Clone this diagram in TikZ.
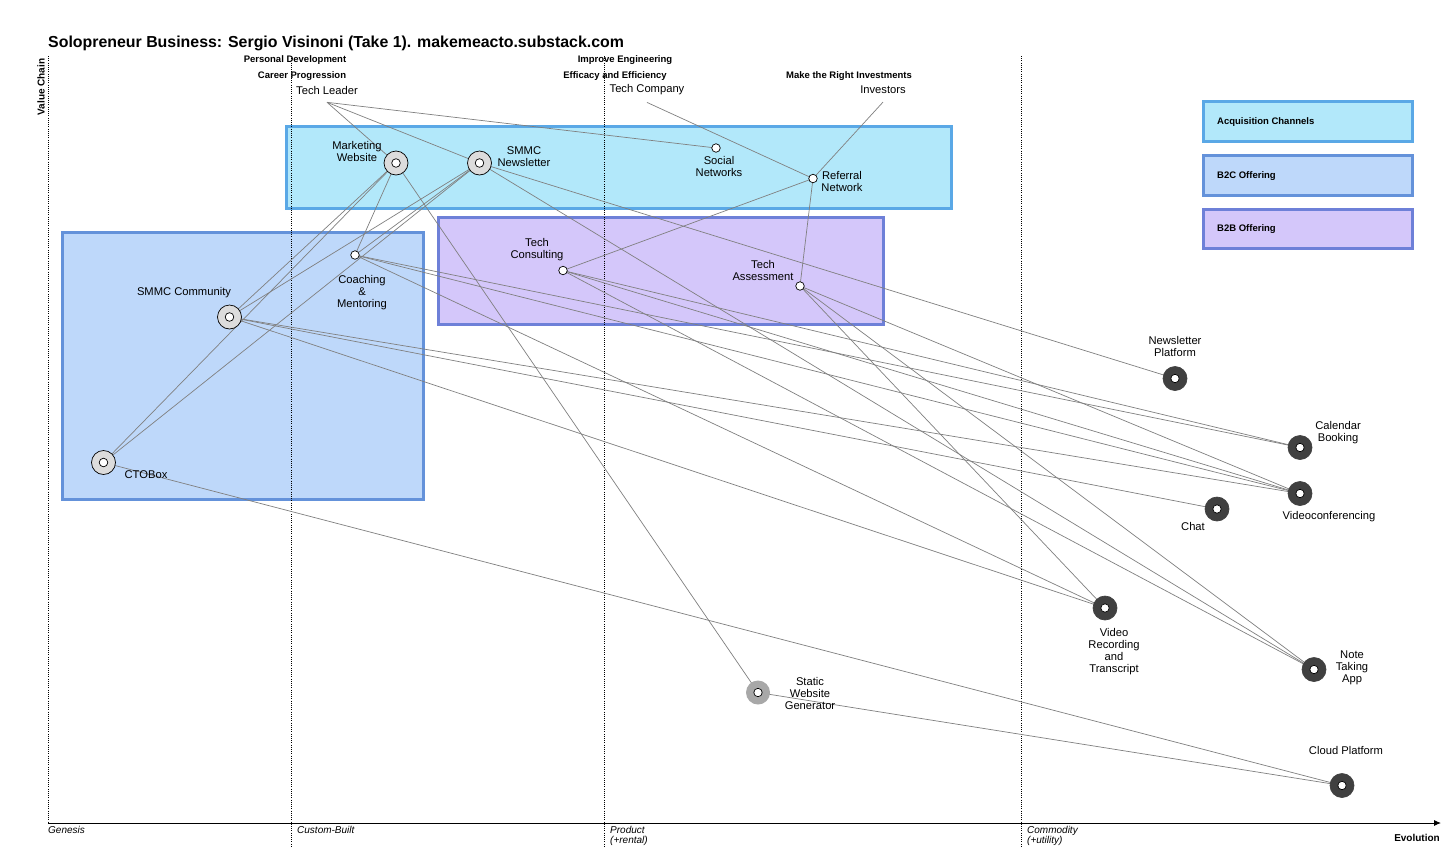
\documentclass[tikz,border=0pt]{standalone}
\usepackage{fontspec}
\setmainfont{Liberation Sans}
\usetikzlibrary{arrows.meta}
\pgfdeclarelayer{boxes}
\pgfdeclarelayer{links}
\pgfsetlayers{boxes,links,main}
\definecolor{acqfill}{HTML}{B2E8FA}
\definecolor{acqedge}{HTML}{5AA8E6}
\definecolor{btcfill}{HTML}{BED8FA}
\definecolor{btcedge}{HTML}{6492DA}
\definecolor{bbfill}{HTML}{D4C7FA}
\definecolor{bbedge}{HTML}{6E80D8}
\definecolor{linkgray}{HTML}{808080}
\definecolor{darknode}{HTML}{404040}
\definecolor{ringfill}{HTML}{DCDCDC}
\definecolor{swgfill}{HTML}{A8A8A8}
\tikzset{
  lbl/.style={font=\fontsize{11.2}{12}\selectfont, align=center, inner sep=0pt},
  hdr/.style={font=\bfseries\fontsize{9.5}{10}\selectfont, inner sep=0pt},
  axlbl/.style={font=\itshape\fontsize{10}{10}\selectfont, inner sep=0pt, anchor=north west, align=left},
  leglbl/.style={font=\bfseries\fontsize{9.5}{10}\selectfont, inner sep=0pt, anchor=west},
  conn/.style={draw=linkgray, line width=0.7pt},
  grid/.style={draw=black, line width=0.8pt, dash pattern=on 1pt off 1.2pt},
  area/.style={line width=3pt},
  bigring/.style={circle, draw=black, line width=0.7pt, fill=ringfill, minimum size=24pt, inner sep=0pt,
    path picture={\draw[fill=white, line width=0.7pt] (path picture bounding box.center) circle (4.3pt);}},
  darkring/.style={circle, draw=darknode, line width=0.7pt, fill=darknode, minimum size=24pt, inner sep=0pt,
    path picture={\draw[fill=white, draw=black, line width=0.7pt] (path picture bounding box.center) circle (4.2pt);}},
  greyring/.style={circle, draw=none, fill=swgfill, minimum size=24pt, inner sep=0pt,
    path picture={\draw[fill=white, draw=black, line width=0.7pt] (path picture bounding box.center) circle (4.2pt);}},
  dot/.style={circle, draw=black, fill=white, line width=0.7pt, minimum size=8.5pt, inner sep=0pt}
}
\begin{document}
\begin{tikzpicture}[x=1pt,y=-1pt]
\useasboundingbox (0,0) rectangle (1456,852);

% ---------- areas ----------
\begin{pgfonlayer}{boxes}
\fill[white] (0,0) rectangle (1456,852);
\draw[area, fill=acqfill, draw=acqedge] (286.5,126.5) rectangle (951.5,208.5);
\draw[area, fill=btcfill, draw=btcedge] (62.5,232.5) rectangle (423.5,499.5);
\draw[area, fill=bbfill, draw=bbedge] (438.5,217.5) rectangle (883.5,324.5);
\draw[area, fill=acqfill, draw=acqedge] (1203,101.5) rectangle (1412,141);
\draw[area, fill=btcfill, draw=btcedge] (1203,155.5) rectangle (1412,195);
\draw[area, fill=bbfill, draw=bbedge] (1203,209) rectangle (1412,248);
\end{pgfonlayer}

% ---------- grid and axes ----------
\coordinate (yaxtop) at (48,56);
\coordinate (origin) at (48,823);
\coordinate (xend) at (1441,823);
\coordinate (g1t) at (291,56);   \coordinate (g1b) at (291,846);
\coordinate (g2t) at (604,56);   \coordinate (g2b) at (604,846);
\coordinate (g3t) at (1021,56);  \coordinate (g3b) at (1021,846);
\begin{pgfonlayer}{links}
\draw[grid] (yaxtop) -- (origin);
\draw[grid] (g1t) -- (g1b);
\draw[grid] (g2t) -- (g2b);
\draw[grid] (g3t) -- (g3b);
\end{pgfonlayer}
\draw[line width=0.9pt, -{Latex[length=7pt,width=6pt]}] (origin) -- (xend);

\node[anchor=west, font=\bfseries\fontsize{15.9}{18}\selectfont, inner sep=0pt] (title) at (48,43)
  {Solopreneur Business: Sergio Visinoni (Take 1). makemeacto.substack.com};
\node[rotate=90, font=\bfseries\fontsize{10}{10}\selectfont, inner sep=0pt] (vclabel) at (41,87) {Value Chain};
\node[axlbl] (gen) at (48,826) {Genesis};
\node[axlbl] (cust) at (297,826) {Custom-Built};
\node[axlbl] (prod) at (610,826) {Product\\(+rental)};
\node[axlbl] (comm) at (1027,826) {Commodity\\(+utility)};
\node[font=\bfseries\fontsize{10}{10}\selectfont, inner sep=0pt, anchor=east] (evo) at (1440,838) {Evolution};

% ---------- legend ----------
\node[leglbl] (legacq) at (1217,122) {Acquisition Channels};
\node[leglbl] (legbtc) at (1217,176) {B2C Offering};
\node[leglbl] (legbtb) at (1217,229) {B2B Offering};

% ---------- anchors (users / needs) ----------
\node[hdr] (pd) at (295,60) {Personal Development};
\node[hdr] (cp) at (302,76) {Career Progression};
\node[lbl] (tl) at (327,90) {Tech Leader};
\node[hdr] (ie) at (625,60) {Improve Engineering};
\node[hdr] (ee) at (615,76) {Efficacy and Efficiency};
\node[lbl] (tc) at (647,90) {Tech Company};
\node[hdr] (mri) at (849,76) {Make the Right Investments};
\node[lbl] (inv) at (883,90) {Investors};

% ---------- components ----------
\node[bigring] (mw) at (396,163) {};
\node[bigring] (nl) at (479.5,163) {};
\node[dot] (sn) at (716,148) {};
\node[dot] (rn) at (813,178.5) {};
\node[dot] (coach) at (355,255) {};
\node[dot] (tcons) at (563,270.5) {};
\node[dot] (ta) at (800,286) {};
\node[bigring] (smmc) at (229.5,317) {};
\node[bigring] (cto) at (103.5,462.5) {};
\node[darkring] (np) at (1175,378.5) {};
\node[darkring] (cal) at (1300,447.5) {};
\node[darkring] (vc) at (1300,493.5) {};
\node[darkring] (chat) at (1217,509) {};
\node[darkring] (vr) at (1105,608) {};
\node[darkring] (nta) at (1314,669.5) {};
\node[greyring] (swg) at (758,692.5) {};
\node[darkring] (cloud) at (1342,785.5) {};

% ---------- component labels ----------
\node[lbl] (mwl) at (357,151) {Marketing\\Website};
\node[lbl] (nll) at (524,157) {SMMC\\Newsletter};
\node[lbl] (snl) at (719,166) {Social\\Networks};
\node[lbl] (rnl) at (842,181) {Referral\\Network};
\node[lbl] (tconsl) at (537,250) {Tech\\Consulting};
\node[lbl] (tal) at (763,270) {Tech\\Assessment};
\node[lbl] (coachl) at (362,293) {Coaching\\\&\\Mentoring};
\node[lbl] (smmcl) at (184,293) {SMMC Community};
\node[lbl] (ctol) at (146,475) {CTOBox};
\node[lbl] (npl) at (1175,346) {Newsletter\\Platform};
\node[lbl] (call) at (1338,433) {Calendar\\Booking};
\node[lbl] (vcl) at (1329,517) {Videoconferencing};
\node[lbl] (chatl) at (1193,526) {Chat};
\node[lbl] (vrl) at (1114,652) {Video\\Recording\\and\\Transcript};
\node[lbl] (ntal) at (1352,668) {Note\\Taking\\App};
\node[lbl] (swgl) at (810,693) {Static\\Website\\Generator};
\node[lbl] (cloudl) at (1346,750) {Cloud Platform};

% ---------- connectors ----------
\begin{pgfonlayer}{links}
\draw[conn] ([yshift=-8pt]tl.south) -- (mw.center);
\draw[conn] ([yshift=-8pt]tl.south) -- (nl.center);
\draw[conn] ([yshift=-8pt]tl.south) -- (sn.center);
\draw[conn] ([yshift=-7pt]tc.south) -- (rn.center);
\draw[conn] ([yshift=-8pt]inv.south) -- (rn.center);
\draw[conn] (rn.center) -- (tcons.center);
\draw[conn] (rn.center) -- (ta.center);
\draw[conn] (mw.center) -- (smmc.center);
\draw[conn] (mw.center) -- (cto.center);
\draw[conn] (mw.center) -- (coach.center);
\draw[conn] (mw.center) -- (swg.center);
\draw[conn] (nl.center) -- (smmc.center);
\draw[conn] (nl.center) -- (cto.center);
\draw[conn] (nl.center) -- (coach.center);
\draw[conn] (nl.center) -- (np.center);
\draw[conn] (nl.center) -- (nta.center);
\draw[conn] (coach.center) -- (cal.center);
\draw[conn] (coach.center) -- (vc.center);
\draw[conn] (coach.center) -- (vr.center);
\draw[conn] (smmc.center) -- (vc.center);
\draw[conn] (smmc.center) -- (chat.center);
\draw[conn] (smmc.center) -- (vr.center);
\draw[conn] (tcons.center) -- (cal.center);
\draw[conn] (tcons.center) -- (vc.center);
\draw[conn] (tcons.center) -- (nta.center);
\draw[conn] (ta.center) -- (vr.center);
\draw[conn] (ta.center) -- (nta.center);
\draw[conn] (ta.center) -- (vc.center);
\draw[conn] (cto.center) -- (cloud.center);
\draw[conn] (swg.center) -- (cloud.center);
\end{pgfonlayer}
\end{tikzpicture}
\end{document}
